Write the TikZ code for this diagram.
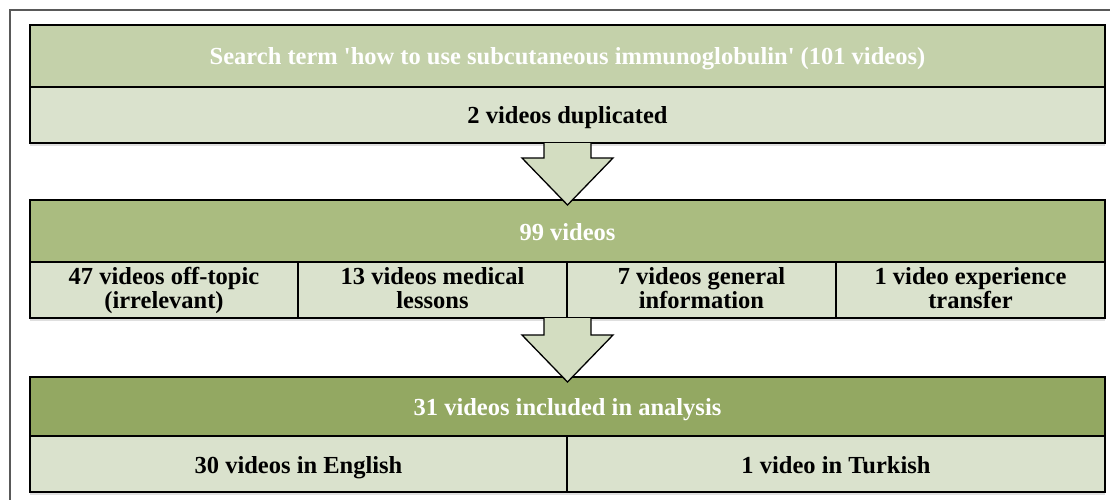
\documentclass[tikz,border=0pt]{standalone}
\usepackage{fontspec}
\setmainfont{Liberation Serif}
\usetikzlibrary{calc,positioning,shadows}
\definecolor{hdrpale}{HTML}{C4D1AA}
\definecolor{hdrmid}{HTML}{AABC80}
\definecolor{hdrdark}{HTML}{93A862}
\definecolor{cellpale}{HTML}{DAE2CD}
\definecolor{arrowpale}{HTML}{D3DDC1}
\newcommand{\DownArrow}[2]{%
  \coordinate (tip) at ($(#2)+(0,5)$);
  \filldraw[blockarrow] ($(tip |- #1)+(-23.5,0)$) -- ($(tip)+(-23.5,-47)$) -- ($(tip)+(-45.5,-47)$)
    -- (tip) -- ($(tip)+(45.5,-47)$) -- ($(tip)+(23.5,-47)$) -- ($(tip |- #1)+(23.5,0)$);
}

\begin{document}
\begin{tikzpicture}[x=1pt,y=-1pt,
    box/.style={draw=black, line width=1.3pt, outer sep=0pt, inner sep=0pt, align=center,
      font=\fontsize{24.5}{24}\selectfont\bfseries,
      drop shadow={opacity=.25, shadow xshift=0pt, shadow yshift=-3pt}},
    oneline/.style={execute at begin node={\rule{0pt}{24.5pt}}, execute at end node={\rule[-6.5pt]{0pt}{6.5pt}}},
    head/.style={box, oneline, text=white, minimum height=62pt},
    cell/.style={box, oneline, fill=cellpale, minimum height=56pt},
    duocell/.style={box, fill=cellpale, minimum height=56pt, text height=46pt, text depth=10pt},
    blockarrow/.style={fill=arrowpale, draw=black, line width=1.3pt, line join=miter}]
    \useasboundingbox (0,0) rectangle (1110,500);
    \draw[black!65, line width=2pt] (10,500) -- (10,10) -- (1110,10);

    \node[head, fill=hdrpale, minimum width=1075pt, anchor=north west] (search) at (30,25)
      {Search term \textquotesingle how to use subcutaneous immunoglobulin\textquotesingle\ (101 videos)};
    \node[cell, minimum width=1075pt, below=0pt of search] (dup) {2 videos duplicated};

    \node[head, fill=hdrmid, minimum width=1075pt, anchor=north west] (ninetynine) at (30,200) {99 videos};
    \node[duocell, minimum width=268pt, anchor=north west] (offtopic) at (ninetynine.south west) {47 videos off-topic\\(irrelevant)};
    \node[duocell, minimum width=269pt, right=0pt of offtopic] (lessons) {13 videos medical\\lessons};
    \node[duocell, minimum width=269pt, right=0pt of lessons] (general) {7 videos general\\information};
    \node[duocell, minimum width=269pt, right=0pt of general] (transfer) {1 video experience\\transfer};
    \DownArrow{dup.south}{ninetynine.north}

    \node[head, fill=hdrdark, minimum width=1075pt, minimum height=59pt, anchor=north west] (analysis) at (30,377) {31 videos included in analysis};
    \node[cell, minimum width=537pt, anchor=north west] (english) at (analysis.south west) {30 videos in English};
    \node[cell, minimum width=538pt, right=0pt of english] (turkish) {1 video in Turkish};
    \DownArrow{general.south west}{analysis.north}
\end{tikzpicture}
\end{document}
